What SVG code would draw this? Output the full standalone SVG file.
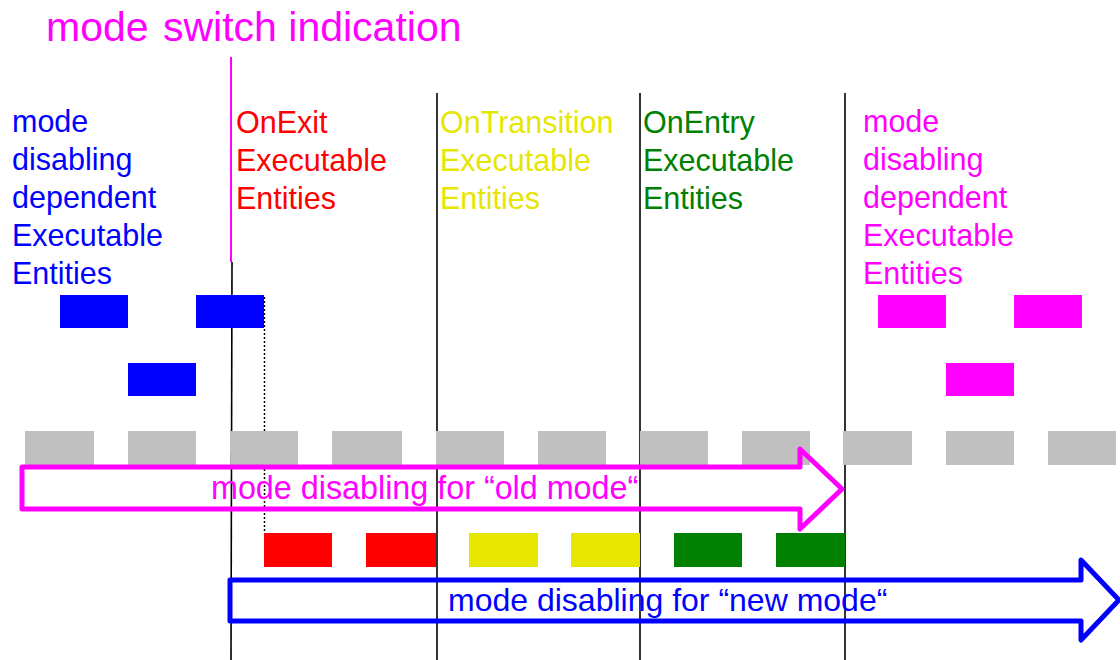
<svg xmlns="http://www.w3.org/2000/svg" width="1120" height="660" viewBox="0 0 1120 660">
<style>
text{font-family:"Liberation Sans",Arial,sans-serif;}
.h{font-size:30.5px;}
.blue{fill:#0000ff;}
.red{fill:#ff0000;}
.yel{fill:#e6e600;}
.grn{fill:#008000;}
.mag{fill:#ff00ff;}
.gray{fill:#c0c0c0;}
.vl{stroke:#000;stroke-width:1.6;fill:none;}
</style>
<rect width="1120" height="660" fill="#fff"/>
<g id="title"><text x="46" y="41" class="mag" font-size="41">mode <tspan x="163">switch indication</tspan></text></g>
<g id="connectors">
<line x1="231" y1="57" x2="231" y2="262" stroke="#ff00ff" stroke-width="2"/>
<line class="vl" x1="232" y1="262" x2="231" y2="660"/>
<line class="vl" x1="437" y1="93" x2="437" y2="660"/>
<line class="vl" x1="640" y1="93" x2="640" y2="660"/>
<line class="vl" x1="845" y1="93" x2="845" y2="660"/>
<line x1="264.5" y1="297" x2="264.5" y2="533" stroke="#000" stroke-width="1.5" stroke-dasharray="2,2"/>
</g>
<g id="label-blue" class="h blue">
<text x="12" y="132">mode</text>
<text x="12" y="170">disabling</text>
<text x="12" y="208">dependent</text>
<text x="12" y="246">Executable</text>
<text x="12" y="284">Entities</text>
</g>
<g id="label-onexit" class="h red">
<text x="236" y="133">OnExit</text>
<text x="236" y="171">Executable</text>
<text x="236" y="209">Entities</text>
</g>
<g id="label-ontransition" class="h yel">
<text x="440" y="133">OnTransition</text>
<text x="440" y="171">Executable</text>
<text x="440" y="209">Entities</text>
</g>
<g id="label-onentry" class="h grn">
<text x="643" y="133">OnEntry</text>
<text x="643" y="171">Executable</text>
<text x="643" y="209">Entities</text>
</g>
<g id="label-magenta" class="h mag">
<text x="863" y="132">mode</text>
<text x="863" y="170">disabling</text>
<text x="863" y="208">dependent</text>
<text x="863" y="246">Executable</text>
<text x="863" y="284">Entities</text>
</g>
<g id="blue-blocks" class="blue">
<rect x="60" y="295" width="68" height="33"/>
<rect x="196" y="295" width="68" height="33"/>
<rect x="128" y="363" width="68" height="33"/>
</g>
<g id="magenta-blocks" class="mag">
<rect x="878" y="295" width="68" height="33"/>
<rect x="1014" y="295" width="68" height="33"/>
<rect x="946" y="363" width="68" height="33"/>
</g>
<g id="gray-blocks" class="gray">
<rect x="25" y="431" width="69" height="34"/>
<rect x="128" y="431" width="68" height="34"/>
<rect x="231" y="431" width="67" height="34"/>
<rect x="332" y="431" width="70" height="34"/>
<rect x="436" y="431" width="68" height="34"/>
<rect x="538" y="431" width="68" height="34"/>
<rect x="640" y="431" width="68" height="34"/>
<rect x="742" y="431" width="68" height="34"/>
<rect x="843" y="431" width="69" height="34"/>
<rect x="946" y="431" width="68" height="34"/>
<rect x="1048" y="431" width="68" height="34"/>
</g>
<g id="exec-blocks">
<rect class="red" x="264" y="533" width="68" height="34"/>
<rect class="red" x="366" y="533" width="70" height="34"/>
<rect class="yel" x="469" y="533" width="69" height="34"/>
<rect class="yel" x="571" y="533" width="69" height="34"/>
<rect class="grn" x="674" y="533" width="68" height="34"/>
<rect class="grn" x="776" y="533" width="69" height="34"/>
</g>
<g id="arrow-old">
<path d="M22,467 H800 V449 L842,489 L800,529 V509 H22 Z" fill="none" stroke="#ff00ff" stroke-width="5" stroke-linejoin="round"/>
<text x="211" y="499" class="mag" font-size="32.3">mode disabling for “old mode“</text>
</g>
<g id="arrow-new">
<path d="M230,580 H1081 V560 L1119,600 L1081,640 V621 H230 Z" fill="none" stroke="#0000ff" stroke-width="5" stroke-linejoin="round"/>
<text x="448" y="611" class="blue" font-size="32">mode disabling for “new mode“</text>
</g>
</svg>
